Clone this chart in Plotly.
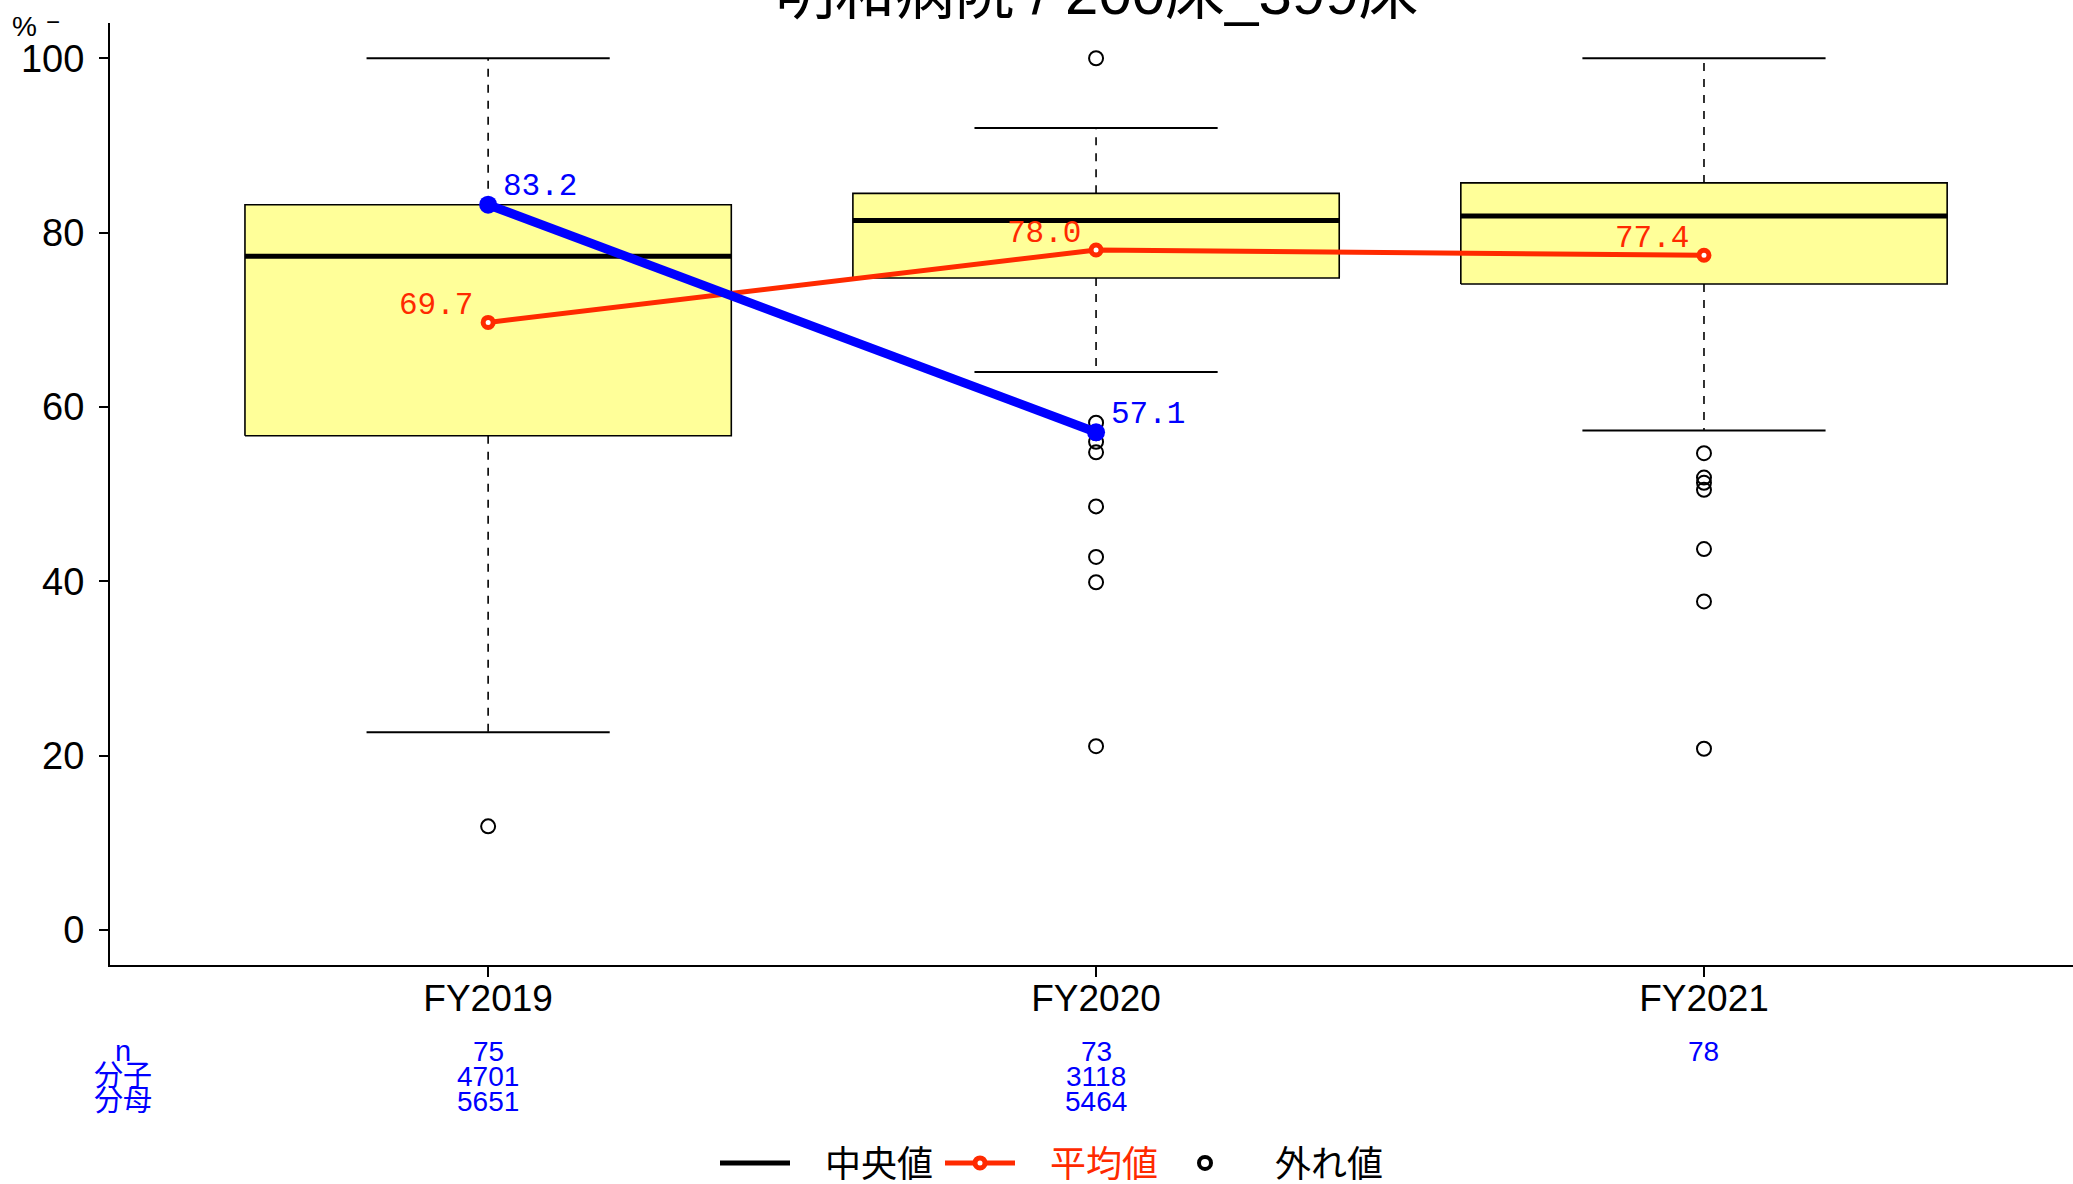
import plotly.graph_objects as go

# ---------------- data ----------------
years = ["FY2019", "FY2020", "FY2021"]
xpos = [1, 2, 3]
q1 = [56.7, 74.8, 74.1]
median = [77.3, 81.4, 81.9]
q3 = [83.2, 84.5, 85.7]
lower_whisker = [22.7, 64.0, 57.3]
upper_whisker = [100.0, 92.0, 100.0]
outliers = [
    [11.9],
    [100.0, 58.2, 57.0, 56.0, 54.8, 48.6, 42.8, 39.9, 21.1],
    [54.7, 51.9, 51.3, 50.5, 43.7, 37.7, 20.8],
]
mean_values = [69.7, 78.0, 77.4]
hospital_values = [83.2, 57.1, None]
n_values = ["75", "73", "78"]
numerators = ["4701", "3118", ""]
denominators = ["5651", "5464", ""]
row_labels = ["n", "分子", "分母"]
legend_names = ["中央値", "平均値", "外れ値"]
title_text = "明和病院 / 200床_399床"
y_ticks = [0, 20, 40, 60, 80, 100]

# ---------------- style / layout constants ----------------
W, H = 2073, 1184
ML, MT, MB = 110, 23, 219
PW, PH = W - ML, H - MT - MB
BOX_HALF = 0.4
CAP_HALF = 0.2
RED = "#FF2A00"
BLUE = "#0000FF"
FILL = "#FFFF99"
LATIN = "Liberation Sans, Arial, sans-serif"
CJK = "Liberation Sans, Noto Sans CJK JP, sans-serif"
MONO = "Liberation Mono, DejaVu Sans Mono, monospace"
LEG_PAD = "\u2002\u2004"


def px_x(px):
    return (px - ML) / PW


def px_y(py):
    return (H - MB - py) / PH


fig = go.Figure()

# boxes (filled rectangles)
for x, a, b in zip(xpos, q1, q3):
    fig.add_trace(go.Scatter(
        x=[x - BOX_HALF, x + BOX_HALF, x + BOX_HALF, x - BOX_HALF, x - BOX_HALF],
        y=[a, a, b, b, a], mode="lines", fill="toself", fillcolor=FILL,
        line=dict(color="black", width=1.6), showlegend=False, hoverinfo="skip"))

# whiskers (dashed)
wx, wy = [], []
for x, a, b, lo, hi in zip(xpos, q1, q3, lower_whisker, upper_whisker):
    wx += [x, x, None, x, x, None]
    wy += [b, hi, None, a, lo, None]
fig.add_trace(go.Scatter(x=wx, y=wy, mode="lines",
                         line=dict(color="black", width=1.6, dash="8px,8px"),
                         showlegend=False, hoverinfo="skip"))

# caps
cx, cy = [], []
for x, lo, hi in zip(xpos, lower_whisker, upper_whisker):
    cx += [x - CAP_HALF, x + CAP_HALF, None, x - CAP_HALF, x + CAP_HALF, None]
    cy += [hi, hi, None, lo, lo, None]
fig.add_trace(go.Scatter(x=cx, y=cy, mode="lines",
                         line=dict(color="black", width=2),
                         showlegend=False, hoverinfo="skip"))

# medians
mx, my = [], []
for x, m in zip(xpos, median):
    mx += [x - BOX_HALF, x + BOX_HALF, None]
    my += [m, m, None]
fig.add_trace(go.Scatter(x=mx, y=my, mode="lines",
                         line=dict(color="black", width=5),
                         name=LEG_PAD + legend_names[0], showlegend=True, hoverinfo="skip"))

# mean line
fig.add_trace(go.Scatter(
    x=xpos, y=mean_values, mode="lines+markers",
    line=dict(color=RED, width=5),
    marker=dict(symbol="circle", size=10, color="white", line=dict(color=RED, width=5)),
    name=LEG_PAD + f"<span style='color:{RED}'>{legend_names[1]}</span>", showlegend=True))

# outliers
ox, oy = [], []
for x, vals in zip(xpos, outliers):
    for v in vals:
        ox.append(x)
        oy.append(v)
fig.add_trace(go.Scatter(x=ox, y=oy, mode="markers",
                         marker=dict(symbol="circle-open", size=14, color="black",
                                     line=dict(width=2)),
                         showlegend=False))
# legend entry for outliers (bolder symbol, no data)
fig.add_trace(go.Scatter(x=[None], y=[None], mode="markers",
                         marker=dict(symbol="circle-open", size=12, color="black",
                                     line=dict(width=4)),
                         name=LEG_PAD + legend_names[2], showlegend=True))

# hospital value line (blue)
hx = [x for x, v in zip(xpos, hospital_values) if v is not None]
hy = [v for v in hospital_values if v is not None]
fig.add_trace(go.Scatter(
    x=hx, y=hy, mode="lines+markers",
    line=dict(color=BLUE, width=9),
    marker=dict(size=18, color=BLUE),
    showlegend=False))

annotations = []
# value labels
for x, v in zip(xpos, mean_values):
    annotations.append(dict(text=f"{v:.1f}", xref="x", yref="y", x=x, y=v,
                            xanchor="right", yanchor="middle", xshift=-13, yshift=17,
                            showarrow=False, font=dict(family=MONO, size=31, color=RED)))
for x, v in zip(hx, hy):
    annotations.append(dict(text=f"{v:.1f}", xref="x", yref="y", x=x, y=v,
                            xanchor="left", yanchor="middle", xshift=13, yshift=18,
                            showarrow=False, font=dict(family=MONO, size=31, color=BLUE)))

# title (partially cut off at top, as in reference)
annotations.append(dict(text=title_text, xref="paper", yref="paper",
                        x=px_x(1097), y=px_y(-6), xanchor="center", yanchor="middle",
                        showarrow=False, font=dict(family=CJK, size=60, color="black")))
# y unit label
annotations.append(dict(text="%", xref="paper", yref="paper", x=px_x(24), y=px_y(26),
                        xanchor="center", yanchor="middle", showarrow=False,
                        font=dict(family=LATIN, size=28, color="black")))
annotations.append(dict(text="−", xref="paper", yref="paper", x=px_x(53), y=px_y(22),
                        xanchor="center", yanchor="middle", showarrow=False,
                        font=dict(family=LATIN, size=24, color="black")))

# count table under the axis
row_y = [1051, 1076, 1101]
for lab, ry in zip(row_labels, row_y):
    annotations.append(dict(text=lab, xref="paper", yref="paper", x=px_x(123), y=px_y(ry),
                            xanchor="center", yanchor="middle", showarrow=False,
                            font=dict(family=CJK, size=29, color=BLUE)))
for x, n, a, b in zip(xpos, n_values, numerators, denominators):
    for val, ry in zip([n, a, b], row_y):
        if val:
            annotations.append(dict(text=val, xref="x", yref="paper", x=x, y=px_y(ry),
                                    xanchor="center", yanchor="middle", showarrow=False,
                                    font=dict(family=LATIN, size=28, color=BLUE)))

fig.update_layout(
    width=W, height=H,
    margin=dict(l=ML, r=0, t=MT, b=MB, pad=0, autoexpand=False),
    paper_bgcolor="white", plot_bgcolor="white",
    font=dict(family=CJK, color="black"),
    showlegend=True,
    legend=dict(orientation="h", x=px_x(715), xanchor="left",
                y=px_y(1163), yanchor="middle",
                font=dict(family=CJK, size=36, color="black"),
                bgcolor="rgba(0,0,0,0)", itemwidth=70,
                entrywidth=140, entrywidthmode="pixels"),
    annotations=annotations,
    xaxis=dict(range=[0.378, 3.607], tickvals=xpos, ticktext=years,
               showgrid=False, zeroline=False, showline=True, linecolor="black", linewidth=2,
               ticks="outside", ticklen=10, tickwidth=2, tickcolor="black",
               ticklabelstandoff=-10,
               tickfont=dict(family=LATIN, size=37, color="black")),
    yaxis=dict(range=[-4, 104.04], tickvals=y_ticks,
               showgrid=False, zeroline=False, showline=True, linecolor="black", linewidth=2,
               ticks="outside", ticklen=9, tickwidth=2, tickcolor="black",
               ticklabelstandoff=7,
               tickfont=dict(family=LATIN, size=38, color="black")),
)

fig.write_html("out.html", config={"displayModeBar": False},
               post_script="document.body.style.margin='0';document.body.style.overflow='hidden';")
